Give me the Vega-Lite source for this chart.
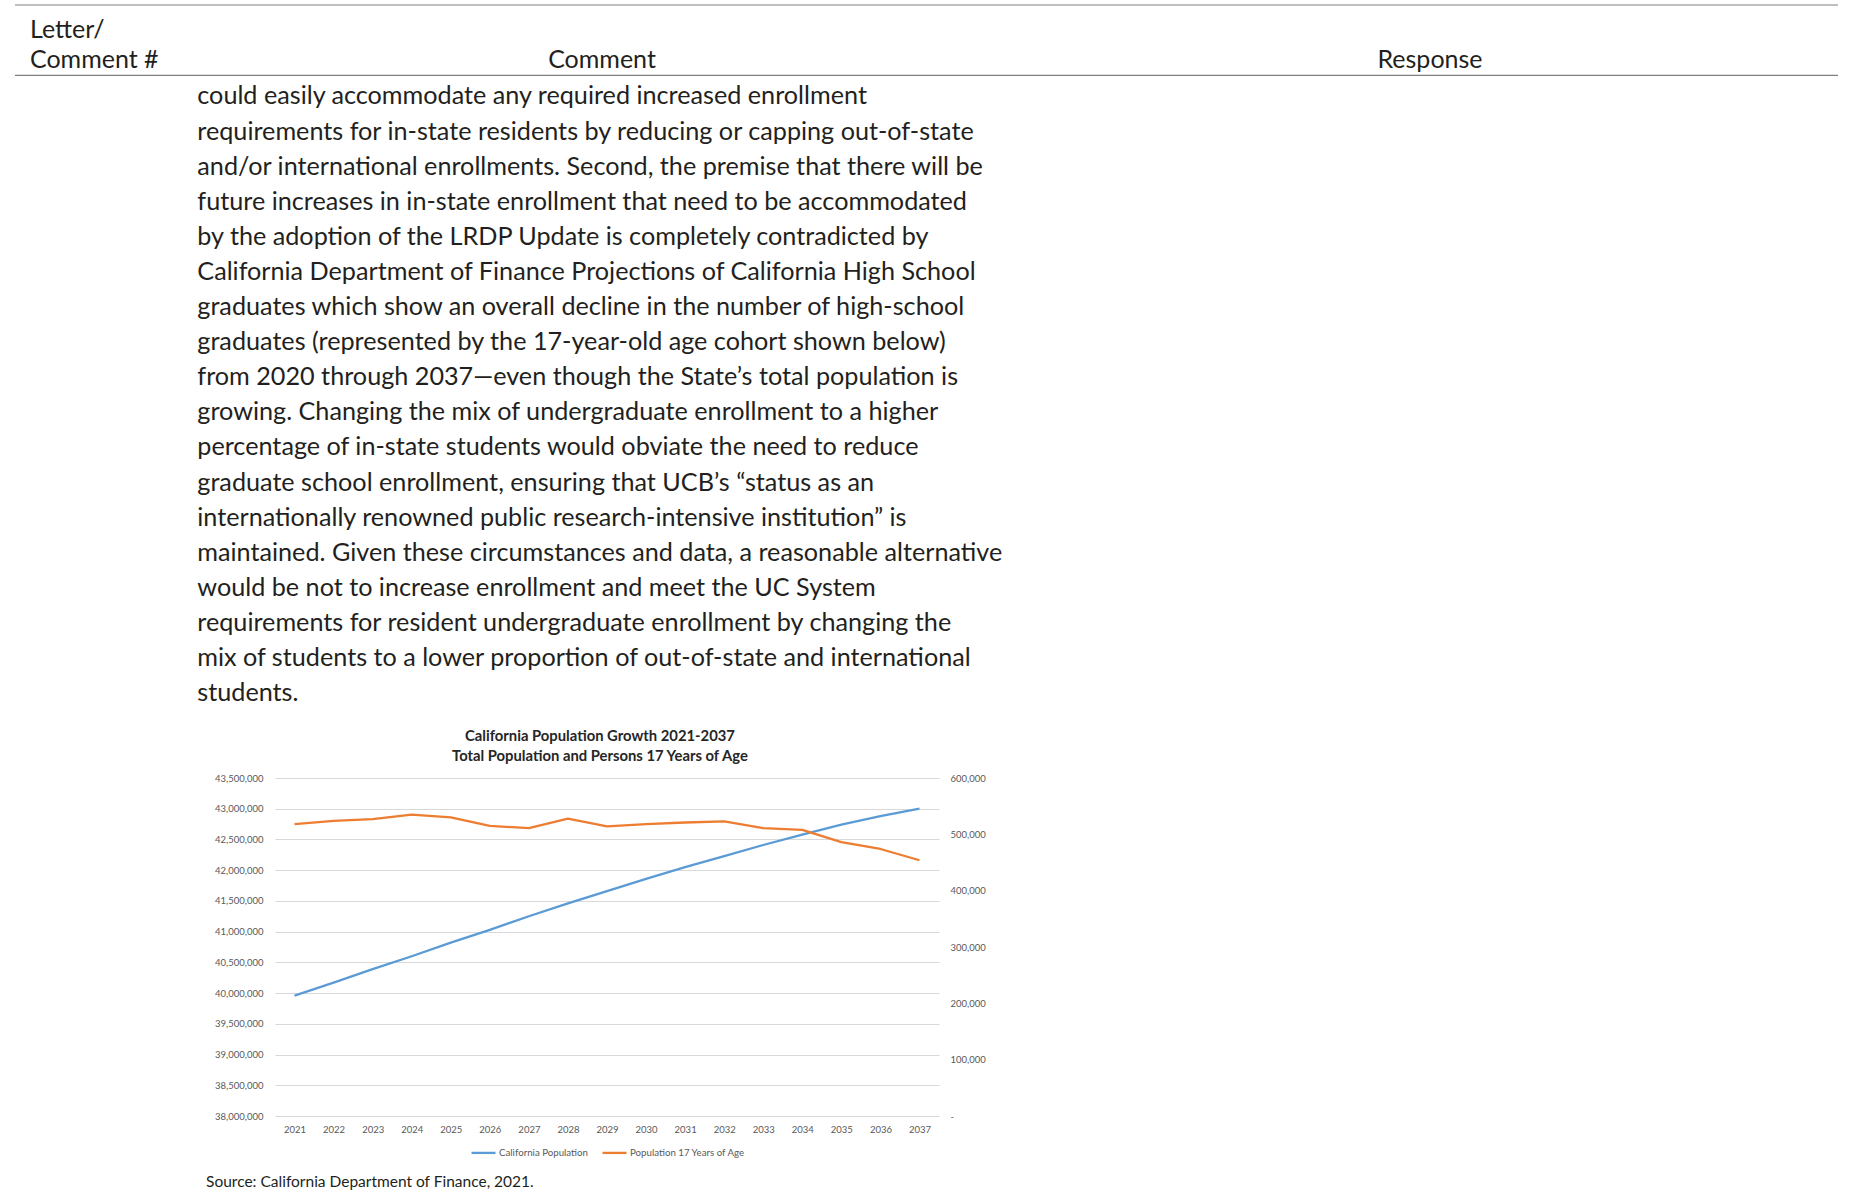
{
  "$schema": "https://vega.github.io/schema/vega-lite/v6.json",
  "background": "white",
  "padding": {"left": 14, "top": 0, "right": 0, "bottom": 0},
  "autosize": {"type": "pad"},
  "bounds": "flush",
  "spacing": 56,
  "resolve": {"scale": {"color": "independent"}, "legend": {"color": "independent"}},
  "config": {"view": {"stroke": null}, "font": "Lato", "legend": {"layout": {"bottom": {"anchor": "middle"}}}},
  "vconcat": [
    {
      "width": 1563,
      "height": 722,
      "view": {"fill": "white", "stroke": null},
      "layer": [
        {
          "data": {"values": [{"rule": "top"}]},
          "mark": {"type": "rule", "color": "#808080", "strokeWidth": 1.2},
          "encoding": {
            "x": {"datum": 0, "type": "quantitative", "scale": {"domain": [14.262, 100], "zero": false, "nice": false}, "axis": null},
            "x2": {"datum": 100},
            "y": {"datum": -1.536, "type": "quantitative", "scale": {"domain": [-1.678, 18.892], "zero": false, "nice": false, "reverse": true}, "axis": null}
          }
        },
        {
          "data": {"values": [{"rule": "header"}]},
          "mark": {"type": "rule", "color": "#808080", "strokeWidth": 1.2},
          "encoding": {
            "x": {"datum": 0, "type": "quantitative"},
            "x2": {"datum": 100},
            "y": {"datum": 0.47, "type": "quantitative"}
          }
        },
        {
          "data": {"values": [{"label": "Letter/"}]},
          "mark": {"type": "text", "align": "left", "baseline": "middle", "fontSize": 25, "color": "#231f20", "dy": 1.5},
          "encoding": {"x": {"datum": 0.82, "type": "quantitative"}, "y": {"datum": -0.88, "type": "quantitative"}, "text": {"field": "label", "type": "nominal"}}
        },
        {
          "data": {"values": [{"label": "Comment #"}]},
          "mark": {"type": "text", "align": "left", "baseline": "middle", "fontSize": 25, "color": "#231f20", "dy": 1.5},
          "encoding": {"x": {"datum": 0.82, "type": "quantitative"}, "y": {"datum": 0, "type": "quantitative"}, "text": {"field": "label", "type": "nominal"}}
        },
        {
          "data": {"values": [{"label": "Comment"}]},
          "mark": {"type": "text", "align": "center", "baseline": "middle", "fontSize": 25, "color": "#231f20", "dy": 1.5},
          "encoding": {"x": {"datum": 32.2, "type": "quantitative"}, "y": {"datum": 0, "type": "quantitative"}, "text": {"field": "label", "type": "nominal"}}
        },
        {
          "data": {"values": [{"label": "Response"}]},
          "mark": {"type": "text", "align": "center", "baseline": "middle", "fontSize": 25, "color": "#231f20", "dy": 1.5},
          "encoding": {"x": {"datum": 77.62, "type": "quantitative"}, "y": {"datum": 0, "type": "quantitative"}, "text": {"field": "label", "type": "nominal"}}
        },
        {
          "data": {"values": [
            {"line": 1, "text": "could easily accommodate any required increased enrollment"},
            {"line": 2, "text": "requirements for in-state residents by reducing or capping out-of-state"},
            {"line": 3, "text": "and/or international enrollments. Second, the premise that there will be"},
            {"line": 4, "text": "future increases in in-state enrollment that need to be accommodated"},
            {"line": 5, "text": "by the adoption of the LRDP Update is completely contradicted by"},
            {"line": 6, "text": "California Department of Finance Projections of California High School"},
            {"line": 7, "text": "graduates which show an overall decline in the number of high-school"},
            {"line": 8, "text": "graduates (represented by the 17-year-old age cohort shown below)"},
            {"line": 9, "text": "from 2020 through 2037—even though the State’s total population is"},
            {"line": 10, "text": "growing. Changing the mix of undergraduate enrollment to a higher"},
            {"line": 11, "text": "percentage of in-state students would obviate the need to reduce"},
            {"line": 12, "text": "graduate school enrollment, ensuring that UCB’s “status as an"},
            {"line": 13, "text": "internationally renowned public research-intensive institution” is"},
            {"line": 14, "text": "maintained. Given these circumstances and data, a reasonable alternative"},
            {"line": 15, "text": "would be not to increase enrollment and meet the UC System"},
            {"line": 16, "text": "requirements for resident undergraduate enrollment by changing the"},
            {"line": 17, "text": "mix of students to a lower proportion of out-of-state and international"},
            {"line": 18, "text": "students."}
          ]},
          "mark": {"type": "text", "align": "left", "baseline": "middle", "fontSize": 25.2, "color": "#231f20", "dy": 2.5},
          "encoding": {
            "x": {"datum": 10, "type": "quantitative"},
            "y": {"field": "line", "type": "quantitative"},
            "text": {"field": "text", "type": "nominal"}
          }
        }
      ]
    },
    {
      "width": 664,
      "height": 338,
      "title": {
        "text": ["California Population Growth 2021-2037", "Total Population and Persons 17 Years of Age"],
        "font": "Lato", "fontSize": 14.8, "fontWeight": "bold", "color": "#262626",
        "lineHeight": 20, "offset": 9.6, "anchor": "middle", "frame": "bounds"
      },
      "data": {"values": [
        {"year": "2021", "series": "California Population", "value": 39960000},
        {"year": "2022", "series": "California Population", "value": 40170000},
        {"year": "2023", "series": "California Population", "value": 40390000},
        {"year": "2024", "series": "California Population", "value": 40600000},
        {"year": "2025", "series": "California Population", "value": 40820000},
        {"year": "2026", "series": "California Population", "value": 41030000},
        {"year": "2027", "series": "California Population", "value": 41250000},
        {"year": "2028", "series": "California Population", "value": 41460000},
        {"year": "2029", "series": "California Population", "value": 41660000},
        {"year": "2030", "series": "California Population", "value": 41860000},
        {"year": "2031", "series": "California Population", "value": 42050000},
        {"year": "2032", "series": "California Population", "value": 42230000},
        {"year": "2033", "series": "California Population", "value": 42410000},
        {"year": "2034", "series": "California Population", "value": 42580000},
        {"year": "2035", "series": "California Population", "value": 42740000},
        {"year": "2036", "series": "California Population", "value": 42880000},
        {"year": "2037", "series": "California Population", "value": 43000000},
        {"year": "2021", "series": "Population 17 Years of Age", "value": 518000},
        {"year": "2022", "series": "Population 17 Years of Age", "value": 524000},
        {"year": "2023", "series": "Population 17 Years of Age", "value": 527000},
        {"year": "2024", "series": "Population 17 Years of Age", "value": 535000},
        {"year": "2025", "series": "Population 17 Years of Age", "value": 530000},
        {"year": "2026", "series": "Population 17 Years of Age", "value": 515000},
        {"year": "2027", "series": "Population 17 Years of Age", "value": 511000},
        {"year": "2028", "series": "Population 17 Years of Age", "value": 528000},
        {"year": "2029", "series": "Population 17 Years of Age", "value": 514000},
        {"year": "2030", "series": "Population 17 Years of Age", "value": 518000},
        {"year": "2031", "series": "Population 17 Years of Age", "value": 521000},
        {"year": "2032", "series": "Population 17 Years of Age", "value": 523000},
        {"year": "2033", "series": "Population 17 Years of Age", "value": 511000},
        {"year": "2034", "series": "Population 17 Years of Age", "value": 508000},
        {"year": "2035", "series": "Population 17 Years of Age", "value": 486000},
        {"year": "2036", "series": "Population 17 Years of Age", "value": 474000},
        {"year": "2037", "series": "Population 17 Years of Age", "value": 454000}
      ]},
      "encoding": {
        "x": {
          "field": "year", "type": "ordinal",
          "scale": {"type": "point", "padding": 0.5},
          "axis": {"title": null, "labelAngle": 0, "domain": false, "ticks": false, "tickSize": 0, "labelPadding": 8, "labelFont": "Lato", "labelFontSize": 9.5, "labelColor": "#595959"}
        },
        "color": {
          "field": "series", "type": "nominal",
          "scale": {"domain": ["California Population", "Population 17 Years of Age"], "range": ["#5B9BD5", "#ED7D31"]},
          "legend": {"title": null, "orient": "bottom", "direction": "horizontal", "symbolType": "stroke", "symbolSize": 576, "symbolStrokeWidth": 2.3, "labelFont": "Lato", "labelFontSize": 9.7, "labelColor": "#595959", "labelOffset": 2, "columnPadding": 9, "offset": 5}
        }
      },
      "layer": [
        {
          "transform": [{"filter": "datum.series === 'California Population'"}],
          "mark": {"type": "line", "strokeWidth": 2.3, "strokeJoin": "round"},
          "encoding": {
            "y": {
              "field": "value", "type": "quantitative",
              "scale": {"domain": [38000000, 43500000], "zero": false, "nice": false},
              "axis": {"orient": "left", "title": null, "values": [38000000, 38500000, 39000000, 39500000, 40000000, 40500000, 41000000, 41500000, 42000000, 42500000, 43000000, 43500000], "labelExpr": "format(datum.value, ',')", "domain": false, "ticks": false, "tickSize": 0, "labelPadding": 12, "labelFont": "Lato", "labelFontSize": 9.5, "labelColor": "#595959", "grid": true, "gridColor": "#D9D9D9", "gridWidth": 1}
            }
          }
        },
        {
          "transform": [{"filter": "datum.series === 'Population 17 Years of Age'"}],
          "mark": {"type": "line", "strokeWidth": 2.3, "strokeJoin": "round"},
          "encoding": {
            "y": {
              "field": "value", "type": "quantitative",
              "scale": {"domain": [0, 600000], "nice": false},
              "axis": {"orient": "right", "title": null, "values": [0, 100000, 200000, 300000, 400000, 500000, 600000], "labelExpr": "datum.value === 0 ? '-' : format(datum.value, ',')", "domain": false, "ticks": false, "tickSize": 0, "labelPadding": 11, "labelAlign": "left", "labelFont": "Lato", "labelFontSize": 9.5, "labelColor": "#595959", "grid": false}
            }
          }
        }
      ],
      "resolve": {"scale": {"y": "independent"}}
    },
    {
      "width": 1563,
      "height": 20,
      "data": {"values": [{"source": "Source: California Department of Finance, 2021."}]},
      "mark": {"type": "text", "align": "left", "baseline": "middle", "fontSize": 15.5, "color": "#231f20"},
      "encoding": {
        "x": {"datum": 10.48, "type": "quantitative", "scale": {"domain": [14.262, 100], "zero": false, "nice": false}, "axis": null},
        "y": {"datum": 0.5, "type": "quantitative", "scale": {"domain": [0, 1]}, "axis": null},
        "text": {"field": "source", "type": "nominal"}
      }
    }
  ]
}
